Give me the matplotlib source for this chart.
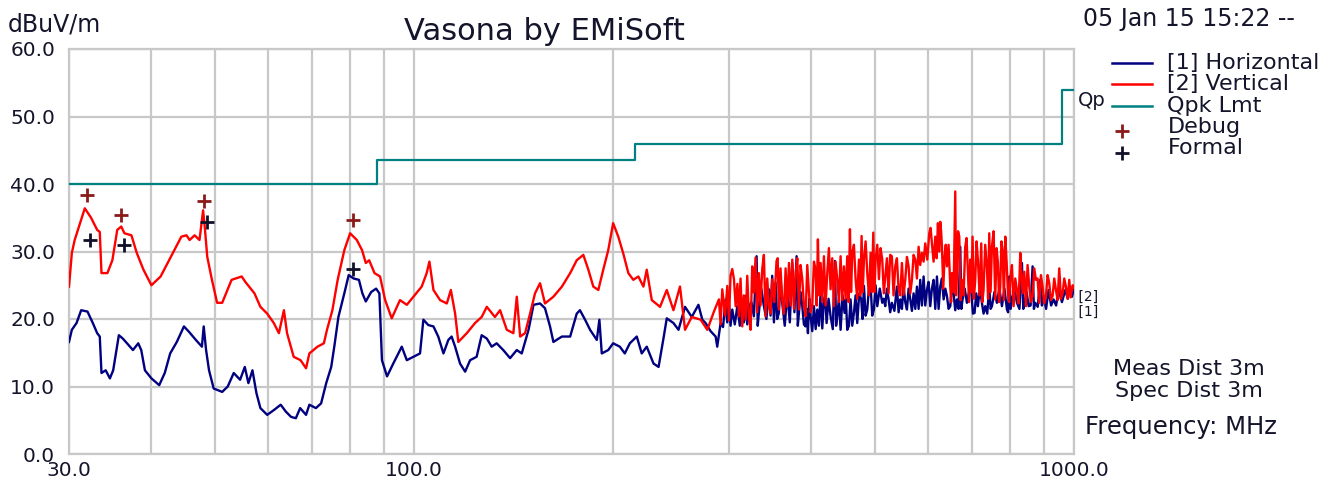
import matplotlib
matplotlib.use("Agg")
import matplotlib.pyplot as plt
from matplotlib.lines import Line2D

W, H = 1335, 479

# --- data (freq MHz, level dBuV/m) -------------------------------------------------------------
horiz = [
    (30.0, 16.6), (30.3, 18.4), (30.8, 19.4), (31.3, 21.3), (32.0, 21.1), (32.6, 19.4), (33.1, 17.9),
    (33.4, 17.4), (33.6, 12.0), (34.1, 12.4), (34.6, 11.2), (35.0, 12.4), (35.7, 17.6), (36.2, 17.1),
    (37.1, 15.9), (37.5, 15.4), (38.2, 16.4), (38.6, 15.4), (39.1, 12.4), (40.0, 11.2), (41.1, 10.2),
    (41.9, 12.0), (42.7, 14.9), (43.7, 16.6), (44.8, 18.9), (45.6, 18.1), (46.7, 16.9), (47.7, 15.9),
    (48.0, 18.9), (48.4, 15.4), (48.9, 12.4), (49.7, 9.7), (51.2, 9.2), (52.2, 10.0), (53.3, 12.0),
    (54.5, 11.0), (55.4, 12.9), (56.1, 10.5), (56.9, 12.4), (57.7, 9.0), (58.5, 6.8), (59.9, 5.8),
    (61.3, 6.5), (62.8, 7.3), (63.9, 6.3), (65.1, 5.5), (66.2, 5.3), (67.2, 6.8), (68.6, 5.8),
    (69.4, 7.3), (71.0, 6.8), (72.3, 7.5), (73.6, 10.5), (74.9, 12.9), (75.7, 15.9), (76.8, 20.3),
    (78.4, 23.8), (79.6, 26.5), (81.0, 26.0), (82.5, 25.8), (83.5, 23.8), (84.5, 22.6), (86.1, 24.0),
    (87.6, 24.5), (88.6, 23.8), (89.4, 13.9), (91.0, 11.5), (93.0, 13.4), (95.8, 15.9), (97.5, 13.9),
    (99.8, 14.4), (102.1, 14.9), (103.3, 19.9), (105.1, 19.1), (107.0, 18.9), (108.8, 17.4),
    (110.8, 14.9), (112.7, 16.9), (114.0, 17.4), (115.4, 15.9), (117.4, 13.4), (119.5, 12.2),
    (121.6, 13.9), (124.4, 14.4), (126.6, 17.6), (128.9, 17.1), (131.1, 15.9), (133.4, 16.4),
    (136.5, 15.4), (139.8, 14.2), (143.1, 15.4), (145.6, 14.9), (149.1, 18.4), (151.7, 22.1),
    (155.2, 22.3), (157.9, 21.6), (160.7, 18.9), (162.6, 16.6), (167.5, 17.4), (172.4, 17.4),
    (176.4, 20.8), (178.4, 21.3), (181.6, 19.9), (184.8, 18.4), (189.2, 16.9), (190.9, 19.9),
    (192.5, 14.9), (196.9, 15.4), (200.3, 16.4), (205.0, 15.9), (208.6, 14.9), (212.3, 16.4),
    (217.5, 17.4), (221.3, 14.9), (225.2, 15.9), (230.6, 13.4), (234.7, 12.9), (239.0, 17.4),
    (241.5, 20.1), (247.2, 19.4), (251.6, 18.4), (257.4, 21.8), (263.5, 20.3), (269.7, 22.1),
    (273.4, 19.9), (276.5, 19.4), (281.4, 18.2), (286.4, 17.4), (288.0, 15.9), (291.4, 19.4),
    (296.5, 22.9), (300.0, 22.4), (303.5, 21.4), (308.9, 21.9), (314.3, 22.9), (318.0, 23.4),
    (321.7, 21.9), (327.3, 20.4), (330.4, 29.3), (333.0, 20.9), (338.9, 21.9), (344.9, 24.4),
    (348.9, 26.4), (353.0, 25.4), (357.1, 20.9), (361.3, 22.4), (367.7, 23.9), (374.2, 28.3),
    (379.9, 29.3), (383.0, 20.9), (387.5, 21.9), (392.0, 18.9), (395.2, 17.9), (398.9, 20.4),
    (403.6, 21.9), (408.3, 21.4), (413.1, 23.9), (417.9, 22.9), (421.8, 19.4), (427.7, 20.4),
    (434.2, 28.6), (437.8, 20.4), (442.9, 18.4), (449.1, 20.9), (453.3, 18.4), (458.6, 22.9),
    (464.0, 20.9), (469.4, 19.4), (476.0, 22.9), (480.5, 24.9), (486.1, 21.4), (491.8, 24.9),
    (497.5, 21.4), (503.4, 21.9), (512.2, 22.4), (517.6, 21.9), (523.6, 22.9), (529.7, 22.4),
    (539.1, 24.8), (545.5, 22.9), (551.8, 24.8), (558.3, 21.4), (564.8, 22.9), (571.4, 23.8),
    (578.1, 24.8), (584.8, 25.8), (591.7, 26.3), (598.6, 24.3), (605.6, 21.9), (612.7, 25.8),
    (619.9, 26.3), (627.1, 24.8), (634.5, 22.9), (641.9, 23.4), (649.4, 21.9), (656.9, 23.8),
    (664.6, 22.9), (672.4, 30.7), (677.8, 22.9), (688.2, 22.4), (698.7, 24.3), (706.9, 20.9),
    (715.1, 21.9), (725.2, 22.4), (733.7, 21.9), (744.0, 24.8), (751.0, 21.9), (764.2, 22.4),
    (777.7, 21.9), (791.4, 21.4), (797.9, 26.3), (805.3, 22.9), (819.5, 22.4), (833.9, 28.3),
    (841.7, 22.4), (853.5, 21.9), (865.5, 27.8), (873.5, 22.4), (888.9, 25.8), (899.3, 23.4),
    (915.1, 24.3), (931.3, 22.9), (947.6, 24.3), (970.0, 24.3), (987.0, 24.8), (998.6, 24.3),
]
# extra readings in the dense, noisy part of the horizontal scan (band edges)
horiz_dense = [
    (293.9, 18.8), (298.2, 19.5), (301.7, 19.0), (306.2, 19.2), (311.6, 19.0), (316.1, 19.5),
    (319.8, 19.2), (324.5, 22.5), (331.7, 19.0), (335.9, 24.5), (341.9, 20.0), (346.9, 20.5),
    (351.0, 19.5), (355.0, 20.0), (359.2, 26.0), (364.5, 19.0), (371.0, 19.5), (377.0, 21.0),
    (381.5, 19.0), (385.2, 24.0), (389.7, 19.2), (393.6, 21.5), (397.0, 23.0), (401.2, 18.2),
    (406.0, 18.5), (410.7, 19.0), (415.5, 18.6), (419.8, 23.5), (424.7, 23.0), (431.0, 18.5),
    (436.0, 19.0), (440.3, 23.0), (446.0, 23.5), (451.2, 23.0), (456.0, 19.0), (461.3, 19.0),
    (466.7, 23.5), (472.7, 23.8), (478.2, 20.0), (483.3, 20.5), (488.9, 24.5), (494.6, 20.5),
    (500.4, 25.0), (507.8, 24.5), (515.0, 23.0), (520.6, 24.5), (526.6, 21.0), (534.4, 21.2),
    (542.3, 21.0), (548.6, 21.5), (555.0, 22.5), (561.5, 24.5), (568.1, 21.2), (574.8, 21.5),
    (581.5, 21.5), (588.2, 22.0), (595.1, 22.0), (602.0, 25.5), (609.1, 24.5), (616.3, 21.5),
    (623.5, 21.5), (630.8, 26.0), (638.2, 24.5), (645.6, 21.5), (653.2, 25.0), (660.8, 21.3),
    (668.5, 21.5), (675.0, 21.5), (683.0, 24.5), (693.4, 24.0), (702.8, 20.8), (711.0, 23.8),
    (720.1, 24.5), (729.4, 20.8), (738.8, 20.8), (747.5, 21.5), (757.6, 24.0), (770.9, 24.5),
    (784.5, 24.5), (794.6, 21.0), (801.6, 21.5), (812.4, 24.5), (826.7, 21.5), (837.8, 21.5),
    (847.6, 24.0), (859.5, 22.0), (869.5, 21.5), (881.2, 21.8), (894.1, 22.0), (907.2, 21.5),
    (923.2, 22.0), (939.5, 22.0), (958.8, 22.5), (978.5, 23.0), (992.8, 23.3),
]

vert = [
    (30.0, 24.8), (30.3, 29.8), (30.6, 31.7), (31.7, 36.4), (32.4, 35.0), (33.1, 33.2), (33.4, 32.9),
    (33.6, 26.8), (34.3, 26.8), (34.9, 28.7), (35.5, 33.2), (36.0, 33.7), (36.4, 32.7), (37.3, 32.4),
    (38.0, 29.8), (38.9, 27.3), (40.0, 25.0), (41.3, 26.3), (42.8, 29.2), (44.4, 32.2), (45.2, 32.4),
    (45.7, 31.7), (46.5, 32.4), (47.3, 31.7), (47.9, 36.1), (48.2, 33.4), (48.6, 29.2), (49.4, 25.8),
    (50.3, 22.4), (51.2, 22.4), (52.9, 25.8), (54.8, 26.3), (55.5, 25.5), (57.3, 23.8), (58.5, 21.8),
    (59.9, 20.8), (61.3, 19.4), (62.4, 17.9), (63.5, 21.3), (64.2, 17.9), (65.7, 14.4), (67.3, 13.9),
    (68.6, 12.7), (69.4, 14.9), (71.4, 15.9), (73.0, 16.4), (73.8, 18.4), (75.2, 21.3), (76.6, 25.8),
    (78.4, 30.2), (80.0, 32.7), (81.9, 31.7), (83.4, 30.2), (84.5, 28.3), (85.5, 28.7), (87.1, 26.8),
    (88.8, 26.3), (90.4, 22.8), (92.5, 20.1), (95.2, 22.8), (97.5, 22.1), (99.8, 23.3), (102.7, 24.8),
    (104.5, 26.8), (105.5, 28.5), (107.0, 24.3), (109.5, 22.8), (112.1, 22.3), (113.7, 24.3),
    (115.4, 20.8), (116.7, 16.6), (120.2, 17.9), (123.7, 19.4), (126.6, 20.3), (128.9, 21.8),
    (132.6, 20.3), (135.0, 21.3), (138.2, 18.4), (141.4, 17.9), (143.1, 23.3), (144.8, 17.4),
    (147.3, 17.9), (149.9, 20.8), (152.5, 23.8), (155.2, 25.3), (157.9, 22.3), (162.6, 23.3),
    (167.5, 24.8), (172.4, 26.8), (176.4, 28.7), (180.5, 29.5), (183.7, 27.3), (186.9, 24.8),
    (190.2, 24.3), (193.5, 27.3), (196.9, 30.2), (200.3, 34.2), (203.9, 32.2), (207.5, 29.7),
    (211.2, 26.8), (214.9, 25.8), (218.7, 26.3), (222.6, 24.8), (225.2, 27.3), (229.2, 22.8),
    (235.9, 21.8), (241.5, 24.3), (247.2, 21.3), (252.9, 24.8), (257.4, 18.4), (263.5, 20.3),
    (271.8, 19.9), (278.2, 18.4), (284.7, 21.1), (289.7, 22.9), (293.1, 24.4), (298.3, 24.9),
    (301.7, 26.4), (305.3, 25.9), (307.1, 21.9), (310.6, 20.4), (314.3, 18.9), (318.0, 19.9),
    (319.8, 26.4), (323.6, 18.4), (327.3, 23.9), (329.2, 29.1), (333.0, 26.8), (336.9, 27.3),
    (340.9, 20.4), (344.9, 21.9), (348.9, 25.9), (354.2, 28.6), (357.1, 21.4), (361.3, 22.9),
    (365.6, 27.5), (369.9, 28.3), (374.2, 28.8), (378.6, 26.8), (383.0, 21.4), (387.5, 25.9),
    (392.0, 20.4), (396.6, 23.9), (401.2, 21.9), (405.9, 27.3), (409.2, 31.8), (413.1, 28.3),
    (417.9, 29.3), (422.8, 26.8), (427.7, 24.4), (432.7, 21.9), (437.8, 25.9), (442.9, 29.3),
    (448.1, 27.8), (453.3, 29.3), (457.6, 33.3), (461.3, 29.8), (466.7, 25.9), (472.2, 28.8),
    (476.6, 32.3), (480.5, 28.8), (486.1, 26.8), (491.8, 29.8), (496.4, 32.8), (500.4, 28.8),
    (506.3, 25.9), (512.2, 28.8), (517.6, 26.3), (523.6, 23.8), (529.7, 29.3), (536.0, 27.8),
    (542.3, 24.3), (548.6, 28.3), (555.0, 25.8), (561.5, 27.8), (568.1, 25.8), (574.8, 28.8),
    (581.5, 30.7), (588.2, 29.8), (595.1, 31.2), (603.5, 32.7), (609.1, 31.2), (616.3, 32.2),
    (622.0, 34.2), (627.1, 34.4), (630.8, 30.7), (636.7, 29.3), (641.9, 27.8), (649.4, 24.8),
    (653.2, 26.8), (660.8, 38.9), (664.6, 26.8), (670.1, 32.2), (676.4, 25.8), (684.2, 30.7),
    (690.6, 26.8), (696.2, 28.8), (701.9, 32.2), (708.5, 25.8), (715.1, 28.8), (723.5, 31.2),
    (729.4, 24.3), (737.9, 27.8), (744.0, 32.7), (751.0, 30.7), (759.8, 22.9), (766.9, 28.3),
    (773.2, 24.8), (779.5, 30.2), (786.8, 32.2), (794.2, 23.8), (800.6, 25.8), (810.0, 21.9),
    (819.5, 24.3), (829.1, 29.8), (835.9, 23.8), (845.6, 21.9), (855.5, 24.8), (865.5, 23.4),
    (875.6, 25.8), (885.8, 22.4), (896.2, 24.8), (906.7, 23.4), (917.3, 25.3), (928.0, 23.4),
    (938.9, 24.3), (949.9, 27.5), (961.0, 23.8), (972.2, 24.8), (983.6, 25.8), (992.8, 24.3),
    (998.6, 24.6),
]
# extra readings in the dense, noisy part of the vertical scan (band edges)
vert_dense = [
    (291.4, 19.2), (296.0, 20.5), (300.0, 19.8), (303.5, 27.4), (309.0, 25.2), (312.4, 26.0),
    (316.0, 23.5), (321.7, 20.2), (325.4, 27.8), (331.0, 21.0), (335.0, 22.0), (338.9, 29.5),
    (342.9, 26.0), (346.9, 20.8), (351.5, 22.5), (355.6, 29.0), (359.2, 27.5), (363.4, 20.8),
    (367.7, 21.8), (372.0, 22.0), (376.4, 21.5), (380.8, 29.0), (385.2, 28.0), (389.7, 22.0),
    (394.3, 28.0), (398.9, 21.0), (403.6, 28.5), (407.5, 22.0), (411.1, 23.5), (415.5, 22.5),
    (420.3, 22.0), (425.2, 30.5), (430.2, 29.0), (435.2, 28.5), (440.3, 22.5), (445.5, 22.8),
    (450.7, 23.0), (455.5, 22.5), (459.4, 24.0), (464.0, 31.0), (469.4, 23.0), (474.4, 23.5),
    (478.5, 24.0), (483.3, 31.5), (489.0, 23.5), (494.1, 24.0), (498.4, 24.0), (503.4, 31.0),
    (509.2, 30.5), (515.0, 23.8), (520.6, 29.0), (526.6, 29.5), (532.8, 23.5), (539.1, 29.0),
    (545.5, 23.5), (551.8, 23.6), (558.3, 29.2), (564.8, 23.8), (571.4, 29.5), (578.1, 26.0),
    (584.8, 28.0), (591.7, 28.5), (599.3, 28.8), (606.3, 33.5), (612.7, 28.5), (619.2, 29.0),
    (624.6, 30.0), (629.0, 33.0), (633.7, 24.5), (639.3, 31.0), (645.6, 31.0), (651.3, 22.5),
    (657.0, 24.0), (662.7, 23.5), (667.3, 33.0), (673.2, 22.8), (680.3, 23.5), (687.4, 32.0),
    (693.4, 22.5), (699.0, 24.0), (705.2, 23.0), (711.8, 31.5), (719.3, 23.5), (726.4, 22.5),
    (733.6, 31.0), (741.0, 23.0), (747.5, 24.0), (755.4, 33.0), (763.3, 30.5), (770.0, 22.5),
    (776.3, 31.5), (783.1, 22.8), (790.5, 28.5), (797.4, 22.5), (805.3, 28.0), (814.7, 26.0),
    (824.3, 22.3), (832.5, 26.5), (840.7, 27.0), (850.5, 28.0), (860.5, 22.5), (870.5, 27.5),
    (880.7, 26.0), (891.0, 26.5), (901.4, 22.3), (912.0, 26.5), (922.6, 22.8), (933.4, 26.0),
    (944.4, 22.8), (955.4, 23.0), (966.6, 26.0), (978.0, 23.0), (988.2, 23.2), (995.7, 25.0),
]

limit_freq = [30, 88, 216, 960, 1000]
limit_level = [40.0, 43.5, 46.0, 54.0, 54.0]

debug_freq = [31.9, 36.0, 48.0, 80.9]
debug_level = [38.4, 35.4, 37.5, 34.7]
formal_freq = [32.3, 36.3, 48.5, 80.9]
formal_level = [31.7, 31.0, 34.3, 27.4]

grid_freq = [30, 40, 50, 60, 70, 80, 90, 100, 200, 300, 400, 500, 600, 700, 800, 900, 1000]
freq_labels = {30: "30.0", 100: "100.0", 1000: "1000.0"}
level_ticks = [0, 10, 20, 30, 40, 50, 60]

NAVY = "#000080"
RED = "#ff0000"
TEAL = "#008080"
GRID = "#c8c8c8"
INK = "#14142a"


def fx(px):
    return px / W


def fy(py):
    return 1 - py / H


def main():
    fig = plt.figure(figsize=(W / 100, H / 100), dpi=100)
    ax = fig.add_axes([fx(69), fy(454), (1074 - 69) / W, (454 - 49) / H])

    hf, hl = zip(*sorted(horiz + horiz_dense))
    vf, vl = zip(*sorted(vert + vert_dense))
    ax.plot(hf, hl, color=NAVY, lw=1.7, zorder=3)
    ax.plot(vf, vl, color=RED, lw=1.7, zorder=4)
    ax.step(limit_freq, limit_level, where="post", color=TEAL, lw=1.6, zorder=5)
    ax.plot(debug_freq, debug_level, ls="none", marker="+", ms=10, mew=2, color="#8b1a1a", zorder=6)
    ax.plot(formal_freq, formal_level, ls="none", marker="+", ms=10, mew=2, color="#101028", zorder=6)

    ax.set_xscale("log")
    ax.set_xlim(30, 1000)
    ax.set_ylim(0, 60)
    ax.set_xticks(grid_freq)
    ax.set_xticklabels([freq_labels.get(f, "") for f in grid_freq])
    ax.xaxis.set_minor_locator(matplotlib.ticker.NullLocator())
    ax.set_yticks(level_ticks)
    ax.set_yticklabels([f"{v:.1f}" for v in level_ticks])
    ax.tick_params(length=0, labelsize=14.5, colors=INK)
    ax.tick_params(axis="y", pad=10)
    ax.tick_params(axis="x", pad=5)
    ax.grid(True, color=GRID, lw=1.6)
    ax.set_axisbelow(True)
    for sp in ax.spines.values():
        sp.set_color(GRID)
        sp.set_linewidth(1.6)

    # trace-end tags (stacked tightly, as on the analyser printout)
    ax.text(1000, 23.3, " [2]", fontsize=10, color=INK, ha="left", va="center", clip_on=False)
    ax.text(1000, 21.1, " [1]", fontsize=10, color=INK, ha="left", va="center", clip_on=False)

    # header texts
    fig.text(fx(544), fy(32), "Vasona by EMiSoft", fontsize=22, color=INK, ha="center", va="center")
    fig.text(fx(8), fy(25), "dBuV/m", fontsize=17, color=INK, ha="left", va="center")
    fig.text(fx(1083), fy(19), "05 Jan 15 15:22 --", fontsize=17, color=INK, ha="left", va="center")

    # legend, drawn by hand to match the tight row spacing
    rows = [
        ("[1] Horizontal", 63, dict(color=NAVY, lw=1.8)),
        ("[2] Vertical", 84, dict(color=RED, lw=1.8)),
        ("Qpk Lmt", 106, dict(color=TEAL, lw=1.8)),
    ]
    for label, py, style in rows:
        fig.add_artist(Line2D([fx(1112), fx(1152)], [fy(py), fy(py)], transform=fig.transFigure, **style))
        fig.text(fx(1167), fy(py), label, fontsize=16, color=INK, ha="left", va="center")
    fig.text(fx(1168), fy(127), "Debug", fontsize=16, color=INK, ha="left", va="center")
    fig.text(fx(1168), fy(148), "Formal", fontsize=16, color=INK, ha="left", va="center")
    fig.add_artist(Line2D([fx(1122)], [fy(131)], transform=fig.transFigure, ls="none",
                          marker="+", ms=10, mew=2, color="#8b1a1a"))
    fig.add_artist(Line2D([fx(1122)], [fy(153)], transform=fig.transFigure, ls="none",
                          marker="+", ms=10, mew=2, color="#101028"))
    fig.text(fx(1078), fy(101), "Qp", fontsize=14, color=INK, ha="left", va="center")

    # measurement notes
    fig.text(fx(1189), fy(369), "Meas Dist 3m", fontsize=16, color=INK, ha="center", va="center")
    fig.text(fx(1189), fy(391), "Spec Dist 3m", fontsize=16, color=INK, ha="center", va="center")
    fig.text(fx(1181), fy(427), "Frequency: MHz", fontsize=17.5, color=INK, ha="center", va="center")

    fig.savefig("out.png", dpi=100)


if __name__ == "__main__":
    main()
